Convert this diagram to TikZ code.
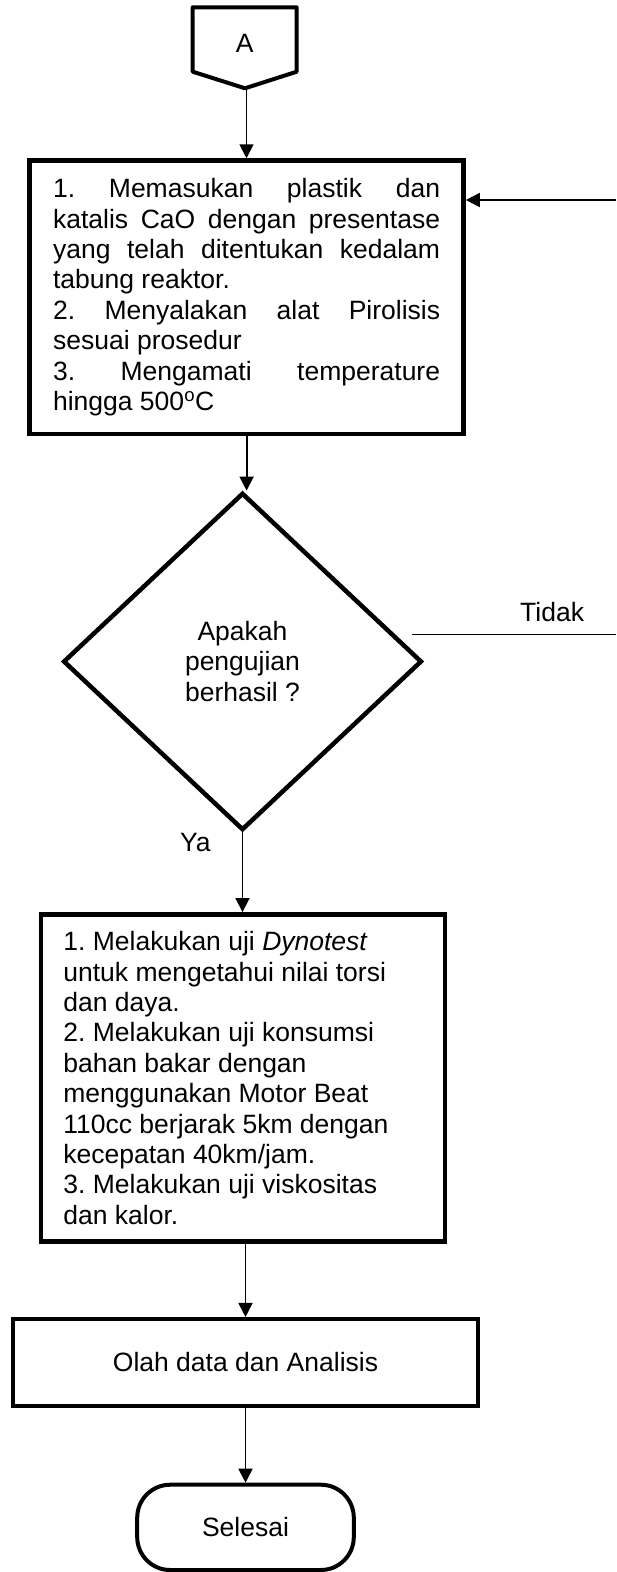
\documentclass[tikz,border=0pt]{standalone}
\usepackage{fontspec}
\setmainfont{Liberation Sans}
\usetikzlibrary{shapes.geometric,arrows.meta}
\frenchspacing
\newcommand{\jline}[1]{{\spaceskip=0pt\xspaceskip=0pt\makebox[\hsize][s]{#1}}}
\begin{document}
\begin{tikzpicture}[x=1pt,y=-1pt,
  txt/.style={font=\fontsize{26.5}{30.4}\selectfont},
  box/.style={draw, line width=4.5pt, inner sep=0pt, txt},
  arr/.style={line width=1.8pt, -{Triangle[length=14pt,width=14pt]}},
  thinline/.style={line width=1.7pt}]
\useasboundingbox (0,0) rectangle (616,1572);
% off-page connector A
\draw[line width=4pt, line join=round] (192.7,7.3) -- (296.7,7.3) -- (296.7,71.7) -- (245,88.3) -- (192.7,71.7) -- cycle;
\node[txt] (A) at (244.7,43) {A};
\coordinate (Atip) at (246.5,90);
% box 1
\node[box, minimum width=434pt, minimum height=273.5pt, text width=387pt, align=flush left] (b1) at (246.6,297.25) {%
\jline{1. Memasukan plastik dan}\\
\jline{katalis CaO dengan presentase}\\
\jline{yang telah ditentukan kedalam}\\
tabung reaktor.\\
\jline{2. Menyalakan alat Pirolisis}\\
sesuai prosedur\\
\jline{3. Mengamati temperature}\\
hingga 500\textsuperscript{o}C};
% decision
\node[box, shape=diamond, minimum width=358.7pt, minimum height=337.3pt, align=flush center] (d) at (242.5,661.5) {Apakah\\pengujian\\berhasil ?};
% box 2
\node[box, minimum width=403.7pt, minimum height=327.4pt, text width=359pt, align=flush left] (b2) at (242.9,1078) {%
1. Melakukan uji \textit{Dynotest}\\
untuk mengetahui nilai torsi\\
dan daya.\\
2. Melakukan uji konsumsi\\
bahan bakar dengan\\
menggunakan Motor Beat\\
110cc berjarak 5km dengan\\
kecepatan 40km/jam.\\
3. Melakukan uji viskositas\\
dan kalor.};
% box 3
\node[box, minimum width=465pt, minimum height=86.6pt] (b3) at (245.5,1362.5) {Olah data dan Analisis};
% terminal
\node[box, line width=4pt, rounded corners=33pt, minimum width=216.6pt, minimum height=85.3pt] (s) at (245.5,1527.35) {Selesai};
% labels
\node[txt, anchor=base west, inner sep=0pt] (tidak) at (520,621.7) {Tidak};
\node[txt, anchor=base west, inner sep=0pt] (ya) at (180,851.7) {Ya};
% connectors
\coordinate (t1) at (411.7,634.5);
\coordinate (t2) at (616,634.5);
\coordinate (r1) at (616,200);
\draw[arr] (Atip) -- (Atip |- b1.north);
\draw[arr] (b1.south) -- (b1.south |- d.north);
\draw[arr] (d.south) -- (d.south |- b2.north);
\draw[thinline] (t1) -- (t2);
\draw[arr] (r1) -- (r1 -| b1.east);
\draw[arr] (b2.south -| b3.north) -- (b3.north);
\draw[arr] (b3.south -| s.north) -- (s.north);
\end{tikzpicture}
\end{document}
